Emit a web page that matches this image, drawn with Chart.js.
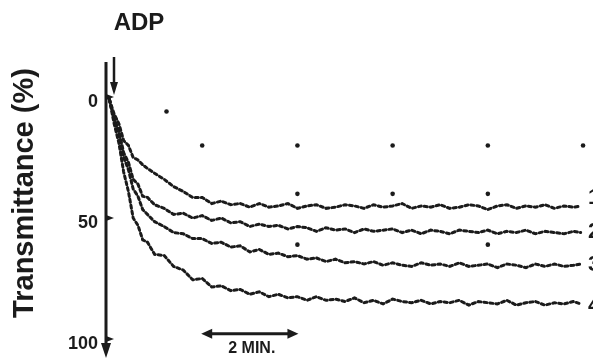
<!DOCTYPE html>
<html lang="en">
<head>
<meta charset="UTF-8" />
<title>ADP transmittance</title>
<script src="https://cdn.jsdelivr.net/npm/chart.js@4.4.0/dist/chart.umd.min.js"></script>
<style>
  body { margin: 0; background: #fff; }
</style>
</head>
<body>
<canvas id="chart" width="593" height="360"></canvas>
<script>
// time in minutes after ADP
const times = [0.05, 0.15, 0.25, 0.35, 0.45, 0.55, 0.65, 0.75, 0.85,
  1.0, 1.2, 1.4, 1.6, 1.8, 2.0, 2.2, 2.4, 2.6, 2.8, 3.0, 3.2, 3.4, 3.6, 3.8,
  4.0, 4.2, 4.4, 4.6, 4.8, 5.0, 5.2, 5.4, 5.6, 5.8, 6.0, 6.2, 6.4, 6.6, 6.8,
  7.0, 7.2, 7.4, 7.6, 7.8, 8.0, 8.2, 8.4, 8.6, 8.8, 9.0, 9.2, 9.4, 9.6, 9.8, 9.95];

// transmittance (%) for the four traces
const trace1 = [1, 7, 11, 18, 20, 25, 26, 28, 29.5,
  31.5, 34, 37, 39, 41.5, 41.5, 44, 43, 44.5, 44, 45.5, 44, 45.5, 45, 44,
  46, 45, 44.5, 46, 45.5, 44.5, 45, 46, 44.5, 45.5, 45, 44, 46, 45, 45.5,
  44.5, 46, 45.5, 44.5, 45, 46.5, 45, 44.5, 46, 45, 45.5, 44.5, 46, 45, 45.5, 45];
const trace2 = [1, 9, 14, 23, 27, 34, 36, 41, 41.5,
  44.5, 46, 48.5, 48, 50, 49, 51, 50, 52, 51.5, 53.5, 52.5, 53.5, 53, 54.5,
  53.5, 54, 55.5, 54, 55, 54.5, 56, 54.5, 55.5, 55, 54.5, 56, 55, 56.5, 55,
  55.5, 56.5, 55, 55.5, 56, 55, 56.5, 55.5, 56, 55, 56.5, 55.5, 56, 56.5, 55.5, 56];
const trace3 = [1, 9, 15, 25, 30, 38, 41, 46.5, 48.5,
  51.5, 53.5, 56, 56.5, 58.5, 58.5, 60.5, 60, 62, 61.5, 64, 63, 65, 64.5, 66,
  65.5, 67, 66.5, 68, 67, 68.5, 68, 69, 68, 69.5, 68.5, 69.5, 70, 68.5, 69.5,
  69, 70, 68.5, 70, 69.5, 69, 70.5, 69, 69.5, 70.5, 69, 70, 69, 70, 69.5, 69];
const trace4 = [1, 11, 19, 31, 39, 50, 53, 59, 60,
  65, 65.5, 70, 71.5, 75.5, 75, 78.5, 78, 80, 79.5, 81.5, 80.5, 82.5, 81.5, 83,
  82.5, 84, 82.5, 84, 83.5, 84.5, 83, 85, 84, 85.5, 83.5, 84.5, 85, 84, 85.5,
  84.5, 85, 84, 86, 84.5, 85, 85.5, 84, 86, 85, 84.5, 86, 85, 85.5, 84.5, 85.5];

// isolated marks on the record
const markTimes = [1.25, 2, 4, 6, 8, 10, 4, 6, 8, 4, 8];
const markValues = [6, 20, 20, 20, 20, 20, 40, 40, 40, 61, 61];

const traceLabels = ["1", "2", "3", "4"];
const yTicks = [0, 50, 100];

const ink = "#1b1b1b";

function pts(ys) {
  return ys.map((y, i) => ({ x: times[i], y: y }));
}

const traceStyle = {
  borderColor: ink,
  borderWidth: 3,
  borderDash: [3, 3],
  borderCapStyle: "round",
  pointRadius: 0,
  tension: 0,
  fill: false,
};

const decorPlugin = {
  id: "decor",
  afterDraw(chart) {
    const ctx = chart.ctx;
    const xs = chart.scales.x;
    const ys = chart.scales.y;
    const ax = chart.chartArea.left - 1;
    ctx.save();
    ctx.fillStyle = ink;
    ctx.strokeStyle = ink;

    // y axis with down arrow
    ctx.lineWidth = 3;
    ctx.beginPath();
    ctx.moveTo(ax, 62);
    ctx.lineTo(ax, 346);
    ctx.stroke();
    ctx.beginPath();
    ctx.moveTo(ax - 5, 343);
    ctx.lineTo(ax + 5, 343);
    ctx.lineTo(ax, 358);
    ctx.closePath();
    ctx.fill();

    // tick marks + labels
    ctx.font = "bold 18px 'Liberation Sans', Arial, sans-serif";
    ctx.textAlign = "right";
    ctx.textBaseline = "alphabetic";
    yTicks.forEach((v) => {
      const py = ys.getPixelForValue(v);
      ctx.beginPath();
      ctx.moveTo(ax, py - 3);
      ctx.lineTo(ax + 8, py);
      ctx.lineTo(ax, py + 3);
      ctx.closePath();
      ctx.fill();
      ctx.fillText(String(v), 98, py + 10);
    });

    // axis title
    ctx.save();
    ctx.translate(33, 193);
    ctx.rotate(-Math.PI / 2);
    ctx.textAlign = "center";
    ctx.font = "bold 29px 'Liberation Sans', Arial, sans-serif";
    ctx.fillText("Transmittance (%)", 0, 0);
    ctx.restore();

    // ADP label and arrow
    ctx.textAlign = "center";
    ctx.font = "bold 24px 'Liberation Sans', Arial, sans-serif";
    ctx.fillText("ADP", 139, 30);
    ctx.lineWidth = 2.5;
    ctx.beginPath();
    ctx.moveTo(114, 57);
    ctx.lineTo(114, 86);
    ctx.stroke();
    ctx.beginPath();
    ctx.moveTo(110, 82);
    ctx.lineTo(118, 82);
    ctx.lineTo(114, 95);
    ctx.closePath();
    ctx.fill();

    // 2 min scale bar
    const x0 = xs.getPixelForValue(2);
    const x1 = xs.getPixelForValue(4);
    const yb = ys.getPixelForValue(97.8);
    ctx.lineWidth = 3;
    ctx.beginPath();
    ctx.moveTo(x0 + 6, yb);
    ctx.lineTo(x1 - 6, yb);
    ctx.stroke();
    ctx.beginPath();
    ctx.moveTo(x0 - 1, yb);
    ctx.lineTo(x0 + 10, yb - 5);
    ctx.lineTo(x0 + 10, yb + 5);
    ctx.closePath();
    ctx.fill();
    ctx.beginPath();
    ctx.moveTo(x1 + 1, yb);
    ctx.lineTo(x1 - 10, yb - 5);
    ctx.lineTo(x1 - 10, yb + 5);
    ctx.closePath();
    ctx.fill();
    ctx.font = "bold 16px 'Liberation Sans', Arial, sans-serif";
    ctx.fillText("2 MIN.", (x0 + x1) / 2 + 2, 353);

    // trace numbers at right edge (clipped like the scan)
    ctx.textAlign = "left";
    ctx.font = "bold 22px 'Liberation Sans', Arial, sans-serif";
    const labelY = [204, 238, 271, 312];
    traceLabels.forEach((t, i) => ctx.fillText(t, 588, labelY[i]));
    ctx.restore();
  },
};

new Chart(document.getElementById("chart"), {
  type: "line",
  data: {
    datasets: [
      Object.assign({ label: "1", data: pts(trace1) }, traceStyle),
      Object.assign({ label: "2", data: pts(trace2) }, traceStyle),
      Object.assign({ label: "3", data: pts(trace3) }, traceStyle),
      Object.assign({ label: "4", data: pts(trace4) }, traceStyle),
      {
        type: "scatter",
        label: "marks",
        data: markTimes.map((t, i) => ({ x: t, y: markValues[i] })),
        showLine: false,
        pointRadius: 2.3,
        pointBackgroundColor: ink,
        pointBorderWidth: 0,
      },
    ],
  },
  options: {
    responsive: false,
    animation: false,
    layout: { padding: { left: 107, top: 61, right: 0, bottom: 5 } },
    scales: {
      x: { type: "linear", min: 0, max: 10.125, display: false },
      y: { min: -14.9, max: 106.6, reverse: true, display: false },
    },
    plugins: {
      legend: { display: false },
      tooltip: { enabled: false },
    },
  },
  plugins: [decorPlugin],
});
</script>
</body>
</html>
